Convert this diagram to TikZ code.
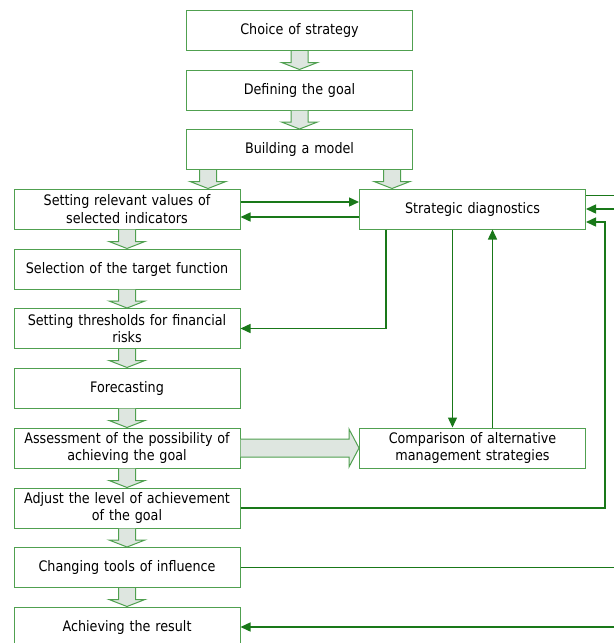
\documentclass[tikz,border=0pt]{standalone}
\usepackage{fontspec}
\setmainfont{DejaVu Sans}[FakeStretch=0.88]
\usetikzlibrary{arrows.meta,calc}
\definecolor{boxgreen}{RGB}{80,160,80}
\definecolor{linkgreen}{RGB}{25,120,25}
\definecolor{arrowfill}{RGB}{222,230,224}

\newcommand{\hollowdown}[3]{%
\filldraw[hollow] let \p1=($(#1.south)+(#3,0)$), \p2=(#2.north) in
 (\x1-8.5pt,\y1) -- (\x1-8.5pt,\y2+7pt) -- (\x1-18pt,\y2+7pt) -- (\x1,\y2)
 -- (\x1+18pt,\y2+7pt) -- (\x1+8.5pt,\y2+7pt) -- (\x1+8.5pt,\y1);}
\newcommand{\hollowright}[2]{%
\filldraw[hollow] let \p1=(#1.east), \p2=(#2.west) in
 (\x1,\y1+9pt) -- (\x2-10pt,\y1+9pt) -- (\x2-10pt,\y1+19pt) -- (\x2,\y1)
 -- (\x2-10pt,\y1-19pt) -- (\x2-10pt,\y1-9pt) -- (\x1,\y1-9pt);}

\begin{document}
\begin{tikzpicture}[x=1pt,y=-1pt,
  stage/.style={draw=boxgreen, line width=1pt, minimum width=226pt, minimum height=40pt,
    text width=216pt, inner sep=0pt, align=center, font=\fontsize{14.5}{17.5}\selectfont},
  hollow/.style={draw=boxgreen, line width=1pt, fill=arrowfill},
  link/.style={draw=linkgreen, line width=1.4pt, -{Triangle[length=10pt,width=9pt]}},
  plainlink/.style={draw=linkgreen, line width=1.4pt}]
\useasboundingbox (0,0) rectangle (614,643);

\node[stage] (choice) at (299.5,30.5) {Choice of strategy};
\node[stage] (goal) at (299.5,90) {Defining the goal};
\node[stage] (model) at (299.5,149.5) {Building a model};

\node[stage] (relevant) at (127,209) {Setting relevant values of\\selected indicators};
\node[stage] (target) at (127,269) {Selection of the target function};
\node[stage] (thresh) at (127,328.5) {Setting thresholds for financial\\risks};
\node[stage] (forecast) at (127,388) {Forecasting};
\node[stage] (assess) at (127,448) {Assessment of the possibility of\\achieving the goal};
\node[stage] (adjust) at (127,508) {Adjust the level of achievement\\of the goal};
\node[stage] (tools) at (127,567.5) {Changing tools of influence};
\node[stage] (result) at (127,627) {Achieving the result};

\node[stage] (diag) at (472.5,209) {Strategic diagnostics};
\node[stage] (compare) at (472.5,448) {Comparison of alternative\\management strategies};

\coordinate (edge) at (614,0);
\coordinate (loop) at (605,222);
\coordinate (inB) at (614,209);

\hollowdown{choice}{goal}{0}
\hollowdown{goal}{model}{0}
\hollowdown{model}{relevant}{-91.5}
\hollowdown{model}{diag}{92.5}
\hollowdown{relevant}{target}{0}
\hollowdown{target}{thresh}{0}
\hollowdown{thresh}{forecast}{0}
\hollowdown{forecast}{assess}{0}
\hollowdown{assess}{adjust}{0}
\hollowdown{adjust}{tools}{0}
\hollowdown{tools}{result}{0}
\hollowright{assess}{compare}

\draw[link] ([yshift=7pt]relevant.east) -- ([yshift=7pt]relevant.east -| diag.west);
\draw[link] ([yshift=-8pt]diag.west) -- ([yshift=-8pt]diag.west -| relevant.east);
\draw[link] ([xshift=-86.5pt]diag.south) |- (thresh.east);
\draw[link] ([xshift=-20pt]diag.south) -- ([xshift=-20pt]diag.south |- compare.north);
\draw[link] ([xshift=20pt]compare.north) -- ([xshift=20pt]compare.north |- diag.south);
\draw[link] (adjust.east) -| (loop) -- (loop -| diag.east);
\draw[plainlink] ([yshift=-7pt]diag.north east) -- ([yshift=-7pt]diag.north east -| edge);
\draw[link] (inB) -- (inB -| diag.east);
\draw[plainlink] (tools.east) -- (tools.east -| edge);
\draw[link] (result.east -| edge) -- (result.east);
\end{tikzpicture}
\end{document}
